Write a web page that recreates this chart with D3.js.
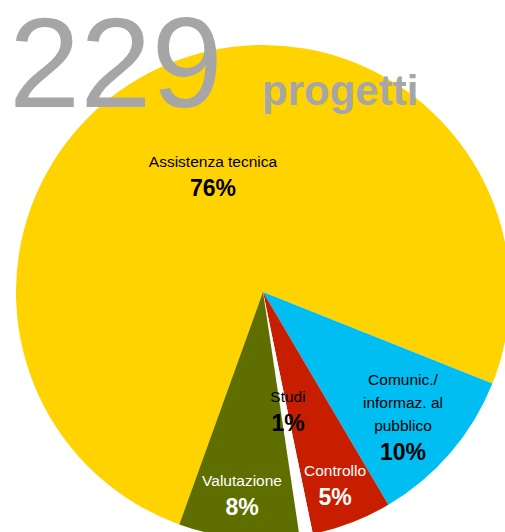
<!DOCTYPE html>
<html>
<head>
<meta charset="utf-8">
<script src="https://cdn.jsdelivr.net/npm/d3@7"></script>
<style>
  body { margin: 0; background: #fff; }
  text { font-family: "Liberation Sans", Arial, sans-serif; }
</style>
</head>
<body>
<div id="chart"></div>
<script>
// Data: project counts per category (229 total)
var categories = ["Assistenza tecnica", "Comunic./ informaz. al pubblico", "Controllo", "Studi", "Valutazione"];
var counts = [173, 24, 12, 2, 18];
var labelLines = [["Assistenza tecnica"], ["Comunic./", "informaz. al", "pubblico"], ["Controllo"], ["Studi"], ["Valutazione"]];
var colors = ["#FFD300", "#00BDF2", "#C81E00", "#FFFFFF", "#5E6F00"];
var textColors = ["#000", "#000", "#fff", "#000", "#fff"];
var total = 229;

var svgWidth = 505;
var svgHeight = 532;
var cx = 263, cy = 292, radius = 247;

var svg = d3.select("#chart")
  .append("svg")
  .attr("width", svgWidth)
  .attr("height", svgHeight);

var pieData = categories.map((c, i) => ({ name: c, value: counts[i], i: i }));

// first slice starts at about 200 degrees (clockwise from 12 o'clock)
var start = 199.8 * Math.PI / 180;
var pie = d3.pie()
  .value(d => d.value)
  .sort(null)
  .startAngle(start)
  .endAngle(start + 2 * Math.PI);

var arc = d3.arc().innerRadius(0).outerRadius(radius);

var g = svg.append("g")
  .attr("transform", `translate(${cx}, ${cy})`);

g.selectAll("path")
  .data(pie(pieData))
  .enter()
  .append("path")
  .attr("d", arc)
  .attr("fill", (d, i) => colors[i]);

// Label positions (relative to pie centre)
var labelPos = [
  [-50, -125],
  [140, 93],
  [72, 184],
  [25, 110],
  [-21, 194]
];

var labels = g.selectAll("g.lbl")
  .data(pie(pieData))
  .enter()
  .append("g")
  .attr("class", "lbl")
  .attr("transform", (d, i) => `translate(${labelPos[i][0]}, ${labelPos[i][1]})`);

labels.each(function (d, i) {
  var sel = d3.select(this);
  var lines = labelLines[i];
  lines.forEach(function (l, k) {
    sel.append("text")
      .attr("text-anchor", "middle")
      .attr("y", k * 23)
      .attr("font-size", 15.5)
      .attr("fill", textColors[i])
      .text(l);
  });
  sel.append("text")
    .attr("text-anchor", "middle")
    .attr("y", (lines.length - 1) * 23 + 29)
    .attr("font-size", 23)
    .attr("font-weight", "bold")
    .attr("fill", textColors[i])
    .text(Math.round(d.value / total * 100) + "%");
});

// Title
svg.append("text")
  .attr("x", 9)
  .attr("y", 107)
  .attr("font-size", 128)
  .attr("fill", "#A6A6A6")
  .text(total);

svg.append("text")
  .attr("x", 262)
  .attr("y", 105)
  .attr("font-size", 42)
  .attr("font-weight", "bold")
  .attr("fill", "#A6A6A6")
  .text("progetti");
</script>
</body>
</html>
